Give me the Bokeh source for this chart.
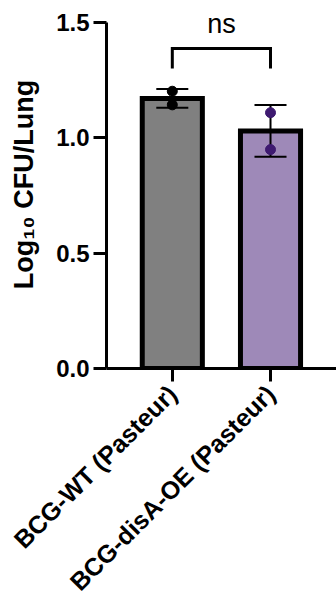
import math
from bokeh.plotting import figure
from bokeh.models import Range1d, FixedTicker, ColumnDataSource
from bokeh.core.properties import value
from bokeh.embed import file_html
from bokeh.resources import INLINE

# ---- data ----
categories = ["BCG-WT (Pasteur)", "BCG-disA-OE (Pasteur)"]
cat_pos = [1, 2]
means = [1.171, 1.030]
sds = [0.041, 0.112]
points_x = [1, 1, 2, 2]
points_y = [1.202, 1.143, 1.109, 0.949]
point_colors = ["#000000", "#000000", "#3E1A70", "#3E1A70"]
bar_colors = ["#808080", "#9E89B8"]
y_ticks = [0.0, 0.5, 1.0, 1.5]
y_tick_labels = ["0.0", "0.5", "1.0", "1.5"]
y_title = "Log\u2081\u2080 CFU/Lung"
sig_label = "ns"
sig_bracket_top = 1.387
sig_bracket_bottom = 1.301
sig_text_y = 1.492

FONT = "Liberation Sans"

p = figure(width=336, height=608, output_backend="svg", toolbar_location=None,
           x_range=Range1d(0.3299, 2.6720), y_range=Range1d(0, 1.5954),
           min_border_left=106, min_border_right=0, min_border_top=0,
           min_border_bottom=240)
p.outline_line_color = None
p.grid.visible = False
p.background_fill_color = "white"
p.border_fill_color = "white"

# bars
src = ColumnDataSource(dict(x=cat_pos, top=means, color=bar_colors))
p.vbar(x="x", top="top", bottom=0, width=0.612, fill_color="color",
       line_color="black", line_width=5, line_join="miter", source=src)

# error bars (mean +/- SD)
lo = [m - s for m, s in zip(means, sds)]
hi = [m + s for m, s in zip(means, sds)]
p.segment(x0=cat_pos, y0=lo, x1=cat_pos, y1=hi, line_color="black", line_width=2)
cap = 0.163
p.segment(x0=[x - cap for x in cat_pos], y0=hi, x1=[x + cap for x in cat_pos], y1=hi,
          line_color="black", line_width=2)
p.segment(x0=[x - cap for x in cat_pos], y0=lo, x1=[x + cap for x in cat_pos], y1=lo,
          line_color="black", line_width=2)

# individual points
p.scatter(x=points_x, y=points_y, size=10, fill_color=point_colors,
          line_color=point_colors)

# significance bracket
p.line(x=[cat_pos[0], cat_pos[0], cat_pos[1], cat_pos[1]],
       y=[sig_bracket_bottom, sig_bracket_top, sig_bracket_top, sig_bracket_bottom],
       line_color="black", line_width=3, line_join="miter")
p.text(x=[(cat_pos[0] + cat_pos[1]) / 2], y=[sig_text_y], text=[sig_label],
       text_font=value(FONT), text_font_size="27px", text_align="center",
       text_baseline="alphabetic", text_color="black")

# y axis
ya = p.yaxis[0]
ya.ticker = FixedTicker(ticks=y_ticks)
ya.major_label_overrides = {t: l for t, l in zip(y_ticks, y_tick_labels)}
ya.bounds = (0, 1.5)
ya.axis_line_width = 3
ya.major_tick_line_width = 3
ya.major_tick_out = 13
ya.major_tick_in = 0
ya.minor_tick_line_color = None
ya.major_label_text_font = FONT
ya.major_label_text_font_style = "bold"
ya.major_label_text_font_size = "24px"
ya.major_label_text_color = "black"
ya.major_label_standoff = 4
ya.axis_label = y_title
ya.axis_label_text_font = FONT
ya.axis_label_text_font_style = "bold"
ya.axis_label_text_font_size = "27px"
ya.axis_label_text_color = "black"
ya.axis_label_standoff = 14

# x axis
xa = p.xaxis[0]
xa.ticker = FixedTicker(ticks=cat_pos)
xa.major_label_overrides = {x: c for x, c in zip(cat_pos, categories)}
xa.major_label_orientation = math.pi / 4
xa.axis_line_width = 3
xa.major_tick_line_width = 3
xa.major_tick_out = 13
xa.major_tick_in = 0
xa.minor_tick_line_color = None
xa.major_label_text_font = FONT
xa.major_label_text_font_style = "bold"
xa.major_label_text_font_size = "25px"
xa.major_label_text_color = "black"
xa.major_label_standoff = 8

open("out.html", "w").write(file_html(p, INLINE))
